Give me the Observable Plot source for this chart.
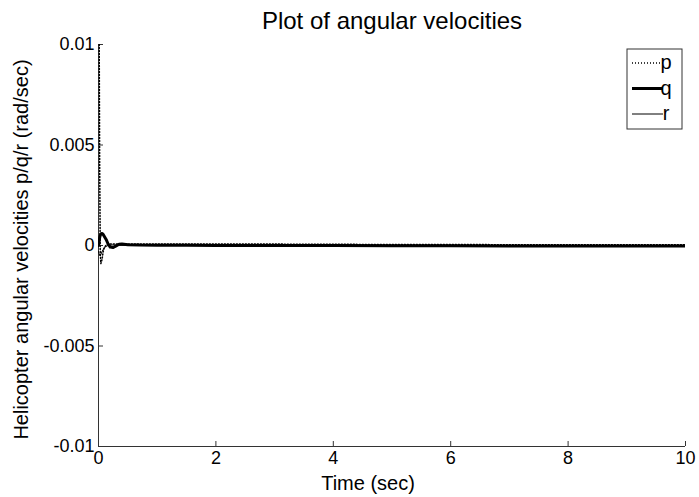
<!DOCTYPE html>
<html>
<head>
<meta charset="utf-8">
<script src="https://cdn.jsdelivr.net/npm/d3@7"></script>
<script src="https://cdn.jsdelivr.net/npm/@observablehq/plot@0.6"></script>
<style>
  html, body { margin: 0; padding: 0; background: #fff; }
  svg { display: block; }
</style>
</head>
<body>
<div id="chart"></div>
<script>
// ---- data ----
const title = "Plot of angular velocities";
const xLabel = "Time (sec)";
const yLabel = "Helicopter angular velocities p/q/r (rad/sec)";
const seriesNames = ["p", "q", "r"];

const time = [0, 0.01, 0.02, 0.03, 0.04, 0.06, 0.08, 0.1, 0.13, 0.16, 0.2, 0.25, 0.3, 0.35, 0.4, 0.5, 0.7, 1, 1.5, 2, 3, 4, 5, 6, 7, 8, 9, 10];
const pVals = [0.03, 0.012, 0.004, -0.0004, -0.0009, -0.0007, -0.0003, -0.0001, 0.00002, 0.00006, 0.00008, 0.00008, 0.00007, 0.00007, 0.00007, 0.00007, 0.00007, 0.00007, 0.00007, 0.00007, 0.00007, 0.00006, 0.00005, 0.00005, 0.00004, 0.00004, 0.00004, 0.00004];
const qVals = [0, 0.0002, 0.0004, 0.0005, 0.00058, 0.0006, 0.00055, 0.00045, 0.0003, 0.0001, -0.00008, -0.0001, -0.00002, 0.00006, 0.00008, 0.00004, 0.00002, 0.00001, 0.00001, 0, 0, 0, -0.00001, -0.00001, -0.00002, -0.00002, -0.00003, -0.00003];
const rVals = [-0.0003, -0.0004, -0.0005, -0.0005, -0.00045, -0.0003, -0.0002, -0.0001, -0.00005, 0, 0.00002, 0.00003, 0.00002, 0.00001, 0.00001, 0, 0, 0, 0, 0, 0, 0, -0.00001, -0.00001, -0.00002, -0.00002, -0.00002, -0.00003];

const xDomain = [0, 10];
const yDomain = [-0.01, 0.01];
const xTicks = [0, 2, 4, 6, 8, 10];
const yTicks = [-0.01, -0.005, 0, 0.005, 0.01];
const yTickLabels = ["-0.01", "-0.005", "0", "0.005", "0.01"];

// ---- build table ----
const rows = (vals, name) => time.map((t, i) => ({t, v: vals[i], s: name}));
const pData = rows(pVals, "p");
const qData = rows(qVals, "q");
const rData = rows(rVals, "r");

const font = "'Liberation Sans', Arial, Helvetica, sans-serif";
const axisColor = "#333";

const chart = Plot.plot({
  width: 699,
  height: 497,
  marginLeft: 98,
  marginRight: 14,
  marginTop: 44,
  marginBottom: 51,
  style: {fontFamily: font, fontSize: "18px", color: "#000", background: "#fff"},
  x: {domain: xDomain},
  y: {domain: yDomain},
  marks: [
    // axis lines
    Plot.ruleY([yDomain[0]], {stroke: axisColor, strokeWidth: 1}),
    Plot.ruleX([xDomain[0]], {stroke: axisColor, strokeWidth: 1}),
    Plot.axisX({ticks: xTicks, tickSize: -5, tickPadding: 10, tickFormat: d => String(d), fontSize: 18, stroke: axisColor, fill: "#000", label: null}),
    Plot.axisY({ticks: yTicks, tickSize: -5, tickPadding: 9, tickFormat: d => yTickLabels[yTicks.indexOf(d)], fontSize: 18, stroke: axisColor, fill: "#000", label: null}),
    // series
    Plot.line(rData, {x: "t", y: "v", stroke: "#000", strokeWidth: 1, clip: true}),
    Plot.line(qData, {x: "t", y: "v", stroke: "#000", strokeWidth: 3, clip: true}),
    Plot.line(pData, {x: "t", y: "v", stroke: "#000", strokeWidth: 1.5, strokeDasharray: "1,2", clip: true}),
    // title and axis labels
    Plot.text([title], {frameAnchor: "top", lineAnchor: "bottom", dy: -16, fontSize: 24, fill: "#000"}),
    Plot.text([xLabel], {frameAnchor: "bottom", lineAnchor: "bottom", dy: 43, dx: -24, fontSize: 20, fill: "#000"}),
    Plot.text([yLabel], {frameAnchor: "left", textAnchor: "middle", rotate: -90, dx: -77, dy: 4, fontSize: 20, fill: "#000"})
  ]
});

// ---- legend (inside the frame, top right) ----
const svg = d3.select(chart);
const lg = svg.append("g").attr("transform", "translate(627,49)").style("font-family", font);
lg.append("rect").attr("width", 55).attr("height", 80).attr("fill", "#fff").attr("stroke", axisColor).attr("stroke-width", 1);
const styles = {p: {w: 1.5, dash: "1,2"}, q: {w: 3, dash: null}, r: {w: 1, dash: null}};
seriesNames.forEach((name, i) => {
  const y = 14 + i * 25.5;
  lg.append("line").attr("x1", 5).attr("x2", 36).attr("y1", y).attr("y2", y)
    .attr("stroke", "#000").attr("stroke-width", styles[name].w)
    .attr("stroke-dasharray", styles[name].dash);
  lg.append("text").attr("x", 39).attr("y", y).attr("dy", "0.32em")
    .attr("font-size", 20).attr("fill", "#000").text(name);
});

document.getElementById("chart").appendChild(chart);
</script>
</body>
</html>
